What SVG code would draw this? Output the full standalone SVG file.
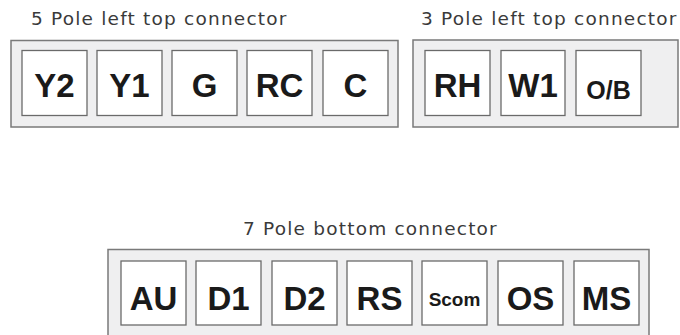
<svg xmlns="http://www.w3.org/2000/svg" width="680" height="335" viewBox="0 0 680 335">
<style>
.outer{fill:#efeff0;stroke:#7a7a7a;stroke-width:1.5}
.pin{fill:#ffffff;stroke:#6a6a6a;stroke-width:1.3}
.title{font-family:"DejaVu Sans",Verdana,sans-serif;font-size:18.5px;letter-spacing:1.2px;fill:#3a3a3a}
.lbl{font-family:"Liberation Sans",Arial,sans-serif;font-weight:bold;font-size:33px;fill:#1a1a1a;text-anchor:middle}
.mid{font-size:25px}
.sm{font-size:19px}
</style>
<rect width="680" height="335" fill="#ffffff"/>
<g id="five-pole">
<text class="title" x="31" y="25">5 Pole left top connector</text>
<rect class="outer" x="11" y="40.5" width="387" height="86.5"/>
<g id="Y2"><rect class="pin" x="22" y="50.5" width="65" height="65"/><text class="lbl" x="54.5" y="96.5">Y2</text></g>
<g id="Y1"><rect class="pin" x="97" y="50.5" width="65" height="65"/><text class="lbl" x="129.5" y="96.5">Y1</text></g>
<g id="G"><rect class="pin" x="172" y="50.5" width="65" height="65"/><text class="lbl" x="204.5" y="96.5">G</text></g>
<g id="RC"><rect class="pin" x="247" y="50.5" width="65" height="65"/><text class="lbl" x="279.5" y="96.5">RC</text></g>
<g id="C"><rect class="pin" x="323" y="50.5" width="65" height="65"/><text class="lbl" x="355.5" y="96.5">C</text></g>
</g>
<g id="three-pole">
<text class="title" x="421" y="25">3 Pole left top connector</text>
<rect class="outer" x="413" y="40" width="265" height="87"/>
<g id="RH"><rect class="pin" x="425" y="50.5" width="65" height="65"/><text class="lbl" x="457.5" y="96.5">RH</text></g>
<g id="W1"><rect class="pin" x="501" y="50.5" width="64" height="65"/><text class="lbl" x="533" y="96.5">W1</text></g>
<g id="OB"><rect class="pin" x="576" y="50.5" width="65" height="65"/><text class="lbl mid" x="608.5" y="99">O/B</text></g>
</g>
<g id="seven-pole">
<text class="title" x="243" y="235">7 Pole bottom connector</text>
<rect class="outer" x="108" y="249.5" width="541" height="100"/>
<g id="AU"><rect class="pin" x="121" y="261" width="65" height="64"/><text class="lbl" x="153.5" y="309.5">AU</text></g>
<g id="D1"><rect class="pin" x="196" y="261" width="65" height="64"/><text class="lbl" x="228.5" y="309.5">D1</text></g>
<g id="D2"><rect class="pin" x="272" y="261" width="65" height="64"/><text class="lbl" x="304.5" y="309.5">D2</text></g>
<g id="RS"><rect class="pin" x="347" y="261" width="65" height="64"/><text class="lbl" x="379.5" y="309.5">RS</text></g>
<g id="Scom"><rect class="pin" x="422" y="261" width="65" height="64"/><text class="lbl sm" x="454.5" y="305.5">Scom</text></g>
<g id="OS"><rect class="pin" x="498" y="261" width="65" height="64"/><text class="lbl" x="530.5" y="309.5">OS</text></g>
<g id="MS"><rect class="pin" x="574" y="261" width="65" height="64"/><text class="lbl" x="606.5" y="309.5">MS</text></g>
</g>
</svg>
